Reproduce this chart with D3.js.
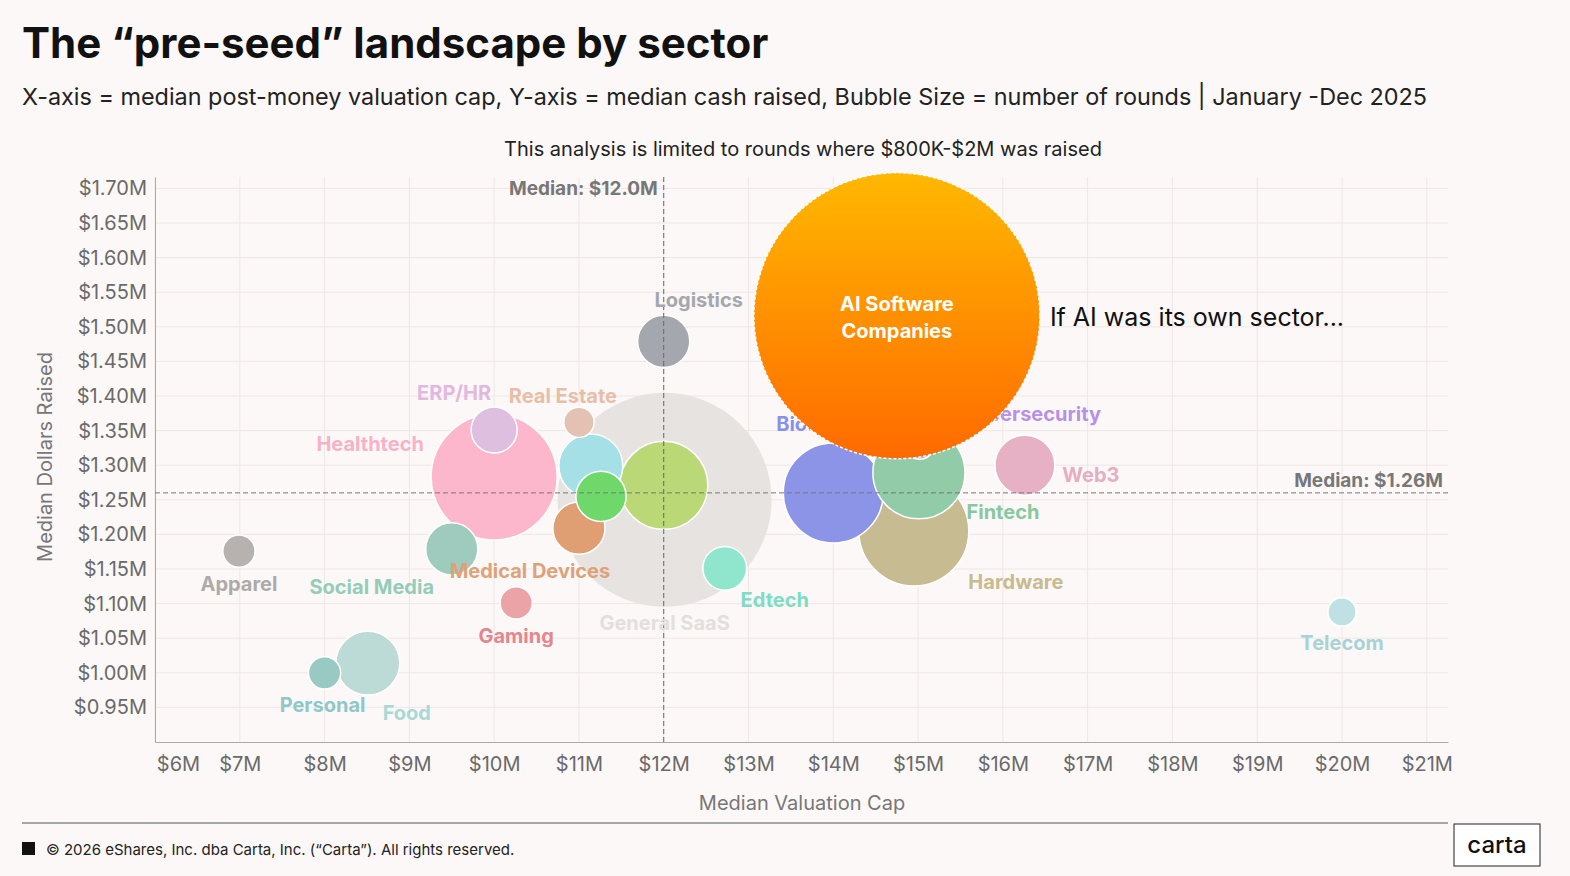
<!DOCTYPE html>
<html>
<head>
<meta charset="utf-8">
<script src="https://cdn.jsdelivr.net/npm/d3@7"></script>
<style>
  body { margin: 0; background: #fcf8f7; font-family: Inter, "Noto Sans", sans-serif; }
</style>
</head>
<body>
<div id="wrapper"></div>
<script>
// Data
const sectors   = ["General SaaS","Logistics","ERP/HR","Real Estate","Healthtech","Unlabeled A","Unlabeled B","Unlabeled C","Medical Devices","Social Media","Apparel","Gaming","Edtech","Personal","Food","Biotech","Cybersecurity","Hardware","Fintech","Web3","Telecom"];
const valuation = [12.01,12.0,10.0,11.0,10.0,11.14,11.26,12.0,11.0,9.5,6.99,10.26,12.72,8.0,8.51,14.0,15.02,14.95,15.01,16.26,20.0];
const raised    = [1.25,1.479,1.351,1.362,1.283,1.299,1.255,1.271,1.209,1.179,1.176,1.101,1.151,1.0,1.014,1.26,1.329,1.205,1.289,1.30,1.088];
const rounds    = [1145,68,53,23,397,102,63,194,68,68,26,26,48,26,102,250,20,302,212,90,20];
const colors    = ["#e6e3e1","#a4a7ad","#dfbfdf","#e4c2b3","#fdb7cc","#a4e0e5","#6fd86b","#bbd876","#df9f72","#9fcbbf","#b7b2b0","#eba3a8","#8fe6cc","#98c9c2","#bcdad6","#8c94e8","#c4a3e9","#c7bb91","#92cba8","#e6b0c5","#bfe1e3"];
const labelColors = ["#e3dfdd","#a4a7ad","#e2b8e0","#e7bea8","#f6b2c8",null,null,null,"#dea27a","#93cdb8","#aeaaa8","#e4868e","#7ddcc4","#8ec8c8","#a9d8d6","#8891ea","#b791e6","#c7bb8f","#86c9a0","#e4aec3","#a7d3d6"];
const ai = { name: ["AI Software","Companies"], valuation: 14.75, raised: 1.516, rounds: 2045 };
const medianX = 12.0, medianY = 1.26;
const xTicks = d3.range(6, 22, 1);
const yTicks = d3.range(0.95, 1.7001, 0.05);

// label offsets (px) from bubble centre
const labelOffsets = {
  "General SaaS":[0,123],"Logistics":[35,-41],"ERP/HR":[-40,-37],"Real Estate":[-16,-26],"Healthtech":[-124,-33],
  "Medical Devices":[-49,43],"Social Media":[-80,38],"Apparel":[0,33],"Gaming":[0,33],"Edtech":[50,32],
  "Personal":[-2,32],"Food":[39,50],"Biotech":[-20,-69],"Cybersecurity":[111,-31],"Fintech":[84,39],
  "Hardware":[102,51],"Web3":[66,10],"Telecom":[0,31]
};

const data = sectors.map((s, i) => ({ name: s, x: valuation[i], y: raised[i], n: rounds[i], color: colors[i], lc: labelColors[i] }));

const W = 1570, H = 876;
const svg = d3.select("#wrapper").append("svg").attr("width", W).attr("height", H);
svg.append("rect").attr("width", W).attr("height", H).attr("fill", "#fcf8f7");

const pLeft = 155, pRight = 1448, pTop = 177, pBottom = 742;
const xScale = d3.scaleLinear().domain([6, 21.25]).range([pLeft, pRight]);
const yScale = d3.scaleLinear().domain([0.9, 1.7165]).range([pBottom, pTop]);
const rScale = d3.scaleSqrt().domain([0, 2045]).range([0, 143]);

// Titles
svg.append("text").attr("x", 22).attr("y", 58).text("The \u201cpre-seed\u201d landscape by sector")
  .style("font-size", "42px").style("font-weight", 700).attr("fill", "#111");
svg.append("text").attr("x", 22).attr("y", 105)
  .text("X-axis = median post-money valuation cap, Y-axis = median cash raised, Bubble Size = number of rounds | January -Dec 2025")
  .style("font-size", "23.4px").attr("fill", "#222");
svg.append("text").attr("x", 803).attr("y", 156).attr("text-anchor", "middle")
  .text("This analysis is limited to rounds where $800K-$2M was raised")
  .style("font-size", "20px").attr("fill", "#222");

// Grid
const grid = svg.append("g");
grid.selectAll(".vx").data(xTicks).join("line")
  .attr("x1", d => xScale(d)).attr("x2", d => xScale(d)).attr("y1", pTop).attr("y2", pBottom)
  .attr("stroke", "#eee7e5");
grid.selectAll(".hy").data(yTicks).join("line")
  .attr("x1", pLeft).attr("x2", pRight).attr("y1", d => yScale(d)).attr("y2", d => yScale(d))
  .attr("stroke", "#eee7e5");

// Axes
const xAxis = svg.append("g").attr("transform", `translate(0,${pBottom})`)
  .call(d3.axisBottom(xScale).tickValues(xTicks).tickSize(0).tickFormat(d => `$${d}M`));
xAxis.select(".domain").attr("stroke", "#aaa");
xAxis.selectAll("text").attr("dy", "1.3em").style("font-size", "20px").attr("fill", "#6a6a6a")
  .style("font-family", "Inter, sans-serif");
xAxis.selectAll(".tick").filter(d => d === 6).select("text").attr("x", 23);

const yAxis = svg.append("g").attr("transform", `translate(${pLeft},0)`)
  .call(d3.axisLeft(yScale).tickValues(yTicks).tickSize(0).tickFormat(d => `$${d.toFixed(2)}M`));
yAxis.select(".domain").attr("stroke", "#aaa");
yAxis.selectAll("text").attr("x", -8).style("font-size", "20px").attr("fill", "#6a6a6a")
  .style("font-family", "Inter, sans-serif");

svg.append("text").attr("x", 802).attr("y", 810).attr("text-anchor", "middle")
  .text("Median Valuation Cap").style("font-size", "20px").attr("fill", "#777");
svg.append("text").attr("transform", "translate(52,457) rotate(-90)").attr("text-anchor", "middle")
  .text("Median Dollars Raised").style("font-size", "20px").attr("fill", "#777");

// Bubbles (largest first so small ones stay visible)
const ordered = [data[0]].concat(data.slice(1).sort((a, b) => b.n - a.n));
const bubbles = svg.append("g");
bubbles.selectAll("circle").data(ordered).join("circle")
  .attr("cx", d => xScale(d.x)).attr("cy", d => yScale(d.y)).attr("r", d => rScale(d.n))
  .attr("fill", d => d.color).attr("stroke", (d, i) => i === 0 ? "none" : "#fff").attr("stroke-width", 1.5);

// Median lines
svg.append("line").attr("x1", xScale(medianX)).attr("x2", xScale(medianX)).attr("y1", pTop).attr("y2", pBottom)
  .attr("stroke", "#666").attr("stroke-dasharray", "5,3");
svg.append("line").attr("x1", pLeft).attr("x2", pRight).attr("y1", yScale(medianY)).attr("y2", yScale(medianY))
  .attr("stroke", "#777").attr("stroke-dasharray", "5,3");
svg.append("text").attr("x", xScale(medianX) - 6).attr("y", 195).attr("text-anchor", "end")
  .text("Median: $12.0M").style("font-size", "19px").style("font-weight", 700).attr("fill", "#777");
svg.append("text").attr("x", pRight - 5).attr("y", yScale(medianY) - 6).attr("text-anchor", "end")
  .text("Median: $1.26M").style("font-size", "19px").style("font-weight", 700).attr("fill", "#777");

// Labels
svg.append("g").selectAll("text").data(data.filter(d => labelOffsets[d.name])).join("text")
  .attr("x", d => xScale(d.x) + labelOffsets[d.name][0])
  .attr("y", d => yScale(d.y) + labelOffsets[d.name][1] + 7)
  .attr("text-anchor", "middle").text(d => d.name)
  .style("font-size", "20px").style("font-weight", 700).attr("fill", d => d.lc);

// AI bubble
const grad = svg.append("defs").append("linearGradient").attr("id", "aiGrad")
  .attr("x1", 0).attr("y1", 0).attr("x2", 0).attr("y2", 1);
grad.append("stop").attr("offset", "0%").attr("stop-color", "#ffb800");
grad.append("stop").attr("offset", "100%").attr("stop-color", "#ff6a00");
svg.append("circle").attr("cx", xScale(ai.valuation)).attr("cy", yScale(ai.raised)).attr("r", rScale(ai.rounds))
  .attr("fill", "url(#aiGrad)").attr("stroke", "#fff").attr("stroke-width", 1.5).attr("stroke-dasharray", "3,2");
svg.append("text").attr("x", xScale(ai.valuation)).attr("y", yScale(ai.raised) - 5).attr("text-anchor", "middle")
  .selectAll("tspan").data(ai.name).join("tspan")
  .attr("x", xScale(ai.valuation)).attr("dy", (d, i) => i === 0 ? 0 : 27).text(d => d)
  .style("font-size", "20px").style("font-weight", 700).attr("fill", "#fff");
svg.append("text").attr("x", xScale(ai.valuation) + 153).attr("y", yScale(ai.raised) + 10)
  .text("If AI was its own sector...").style("font-size", "25px").attr("fill", "#111");

// Footer
svg.append("line").attr("x1", 22).attr("x2", 1448).attr("y1", 823).attr("y2", 823).attr("stroke", "#555");
svg.append("rect").attr("x", 22).attr("y", 842).attr("width", 13).attr("height", 13).attr("fill", "#111");
svg.append("text").attr("x", 46).attr("y", 855).text("\u00a9 2026 eShares, Inc. dba Carta, Inc. (\u201cCarta\u201d). All rights reserved.")
  .style("font-size", "15px").attr("fill", "#222");
svg.append("rect").attr("x", 1454).attr("y", 824).attr("width", 86).attr("height", 42)
  .attr("fill", "#fff").attr("stroke", "#222");
svg.append("text").attr("x", 1497).attr("y", 853).attr("text-anchor", "middle").text("carta")
  .style("font-size", "24px").style("font-weight", 500).attr("fill", "#111");
</script>
</body>
</html>
